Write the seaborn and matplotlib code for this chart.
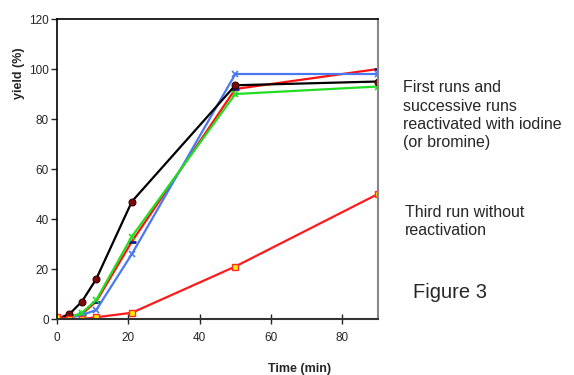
import pandas as pd
import matplotlib.pyplot as plt
import seaborn as sns

# Data
time_min = [0, 3.5, 7, 11, 21, 50, 90]
run_black = [0, 2, 7, 16, 47, 93.5, 95]
run_red = [0, 1, 2, 7, 31, 92, 100]
run_green = [0, 0.5, 2.5, 7.6, 33, 90, 93]
run_blue = [0, 0.5, 1.6, 3.6, 26, 98, 98]
third_run = [1, 0, 0, 0.7, 2.5, 21, 50]

sns.set_style('white')
plt.rcParams['font.family'] = ['Liberation Sans Narrow', 'Liberation Sans', 'DejaVu Sans']

fig = plt.figure(figsize=(5.74, 3.75), dpi=100)
ax = fig.add_axes([0.0993, 0.1493, 0.5592, 0.8])

series = [
    (run_red, dict(color='#ff1010', marker='_', markersize=6, markeredgecolor='#1a1a80', markeredgewidth=2)),
    (run_blue, dict(color='#4a78f0', marker='x', markersize=5, markeredgecolor='#4a78f0', markeredgewidth=1.2)),
    (run_green, dict(color='#22dd22', marker='x', markersize=5, markeredgecolor='#22dd22', markeredgewidth=1.2)),
    (run_black, dict(color='black', marker='o', markersize=5, markerfacecolor='#7a0a0a', markeredgecolor='#300000')),
    (third_run, dict(color='#ff1a1a', marker='s', markersize=5, markerfacecolor='#ffee00', markeredgecolor='#ff2a2a', markeredgewidth=1)),
]
for values, style in series:
    df = pd.DataFrame({'time': time_min, 'yield': values})
    sns.lineplot(data=df, x='time', y='yield', ax=ax, sort=False, linewidth=1.6, **style)

ax.set_xlim(0, 90)
ax.set_ylim(0, 120)
ax.set_xticks([0, 20, 40, 60, 80])
ax.set_yticks(range(0, 121, 20))
ax.tick_params(axis='y', direction='out', length=4, width=1, labelsize=8.5, left=True, pad=2)
ax.tick_params(axis='x', direction='inout', length=7, width=1, labelsize=8.5, bottom=True, pad=6)

for side in ['left', 'top']:
    ax.spines[side].set_color('black')
    ax.spines[side].set_linewidth(1.2)
ax.spines['bottom'].set_color('#333333')
ax.spines['bottom'].set_linewidth(1.5)
ax.spines['right'].set_color('#888888')
ax.spines['right'].set_linewidth(1.5)

ax.set_xlabel('Time (min)', fontsize=9, fontweight='bold')
ax.xaxis.set_label_coords(0.757, -0.147)
ax.set_ylabel('yield (%)', fontsize=9, fontweight='bold')
ax.yaxis.set_label_coords(-0.10, 0.82)

wide = ['Liberation Sans', 'DejaVu Sans']
fig.text(0.702, 0.786, 'First runs and\nsuccessive runs\nreactivated with iodine\n(or bromine)',
         fontsize=11.5, family=wide, va='top', linespacing=1.28)
fig.text(0.706, 0.453, 'Third run without\nreactivation',
         fontsize=11.5, family=wide, va='top', linespacing=1.28)
fig.text(0.72, 0.205, 'Figure 3', fontsize=14.5, family=wide, va='baseline')

fig.savefig('out.png', dpi=100)
plt.close(fig)
